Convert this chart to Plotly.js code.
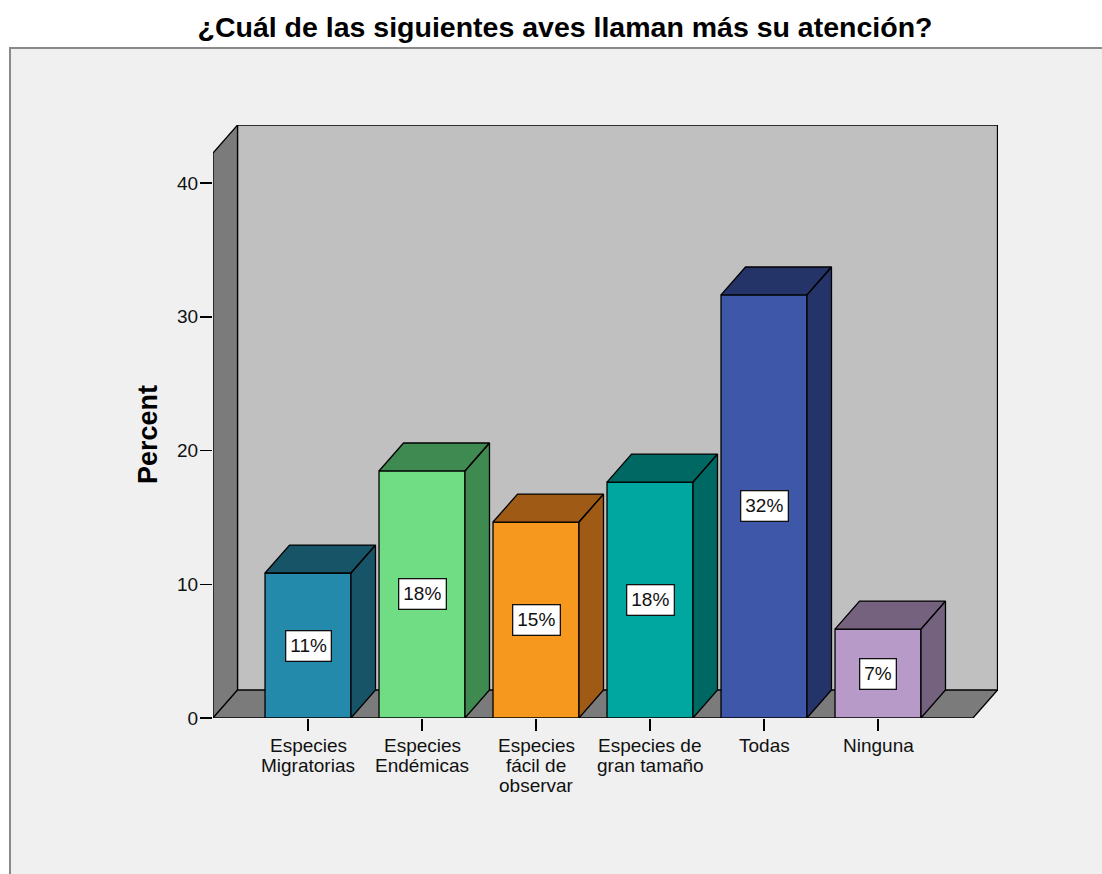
<!DOCTYPE html>
<html>
<head>
<meta charset="utf-8">
<script src="https://cdn.plot.ly/plotly-3.0.1.min.js"></script>
<style>html,body{margin:0;padding:0;background:#fff;}#chart{width:1102px;height:874px;}</style>
</head>
<body>
<div id="chart"></div>
<script>
// ---- data ----
const categories = [
  ["Especies", "Migratorias"],
  ["Especies", "Endémicas"],
  ["Especies", "fácil de", "observar"],
  ["Especies de", "gran tamaño"],
  ["Todas"],
  ["Ninguna"]
];
const percentValues = [10.84, 18.47, 14.65, 17.64, 31.63, 6.65];
const valueLabels = ["11%", "18%", "15%", "18%", "32%", "7%"];
const yTickValues = [0, 10, 20, 30, 40];
const yTickLabels = ["0", "10", "20", "30", "40"];
const frontColors = ["#248aab", "#70dc84", "#f7981e", "#00a6a0", "#3e57a8", "#b79ac8"];
const sideColors  = ["#185468", "#3f8a50", "#9f5b15", "#006863", "#243468", "#74627f"];

// ---- geometry (style) ----
const barHalf = 0.377;       // half bar width in category units
const dx = 0.215;            // depth offset in category units
const dy = 2.09;             // depth offset in value units
const xFront = [-0.8333, 5.8333];
const yFrontTop = 42.24;
const xRange = [xFront[0], xFront[1] + 0.2193];
const yRange = [0, yFrontTop + 2.096];

const FONT = "Liberation Sans, Arial, sans-serif";
const n = percentValues.length;
const idx = percentValues.map((_, i) => i);

const traces = [];
traces.push({
  type: "bar",
  x: idx,
  y: percentValues,
  width: barHalf * 2,
  marker: { color: frontColors, line: { color: "#000", width: 1.3 } },
  hoverinfo: "skip",
  showlegend: false
});
for (let i = 0; i < n; i++) {
  const v = percentValues[i];
  const xl = i - barHalf, xr = i + barHalf;
  traces.push({
    type: "scatter",
    mode: "lines",
    x: [xl, xl + dx, xr + dx, xr, xl, null, xr, xr + dx, xr + dx, xr, xr],
    y: [v, v + dy, v + dy, v, v, null, v, v + dy, dy, 0, v],
    fill: "toself",
    fillcolor: sideColors[i],
    line: { color: "#000", width: 1.3 },
    hoverinfo: "skip",
    showlegend: false
  });
}

// ---- walls (layout decoration) ----
const L = 213, T = 125, PW = 785, PH = 593;
const shapes = [
  // chart frame
  { type: "rect", xref: "paper", yref: "paper",
    x0: (10 - L) / PW, x1: (1110 - L) / PW, y0: (T + PH - 880) / PH, y1: (T + PH - 48) / PH,
    fillcolor: "#f0f0f0", line: { color: "#8a8a8a", width: 2 }, layer: "below" },
  // back wall
  { type: "rect", xref: "x", yref: "y",
    x0: xFront[0] + dx, x1: xFront[1] + dx, y0: dy, y1: yFrontTop + dy,
    fillcolor: "#c0c0c0", line: { color: "#000", width: 1.3 }, layer: "below" },
  // left wall
  { type: "path", xref: "x", yref: "y",
    path: `M ${xFront[0]},0 L ${xFront[0]},${yFrontTop} L ${xFront[0] + dx},${yFrontTop + dy} L ${xFront[0] + dx},${dy} Z`,
    fillcolor: "#7b7b7b", line: { color: "#000", width: 1.3 }, layer: "below" },
  // floor
  { type: "path", xref: "x", yref: "y",
    path: `M ${xFront[0]},0 L ${xFront[1]},0 L ${xFront[1] + dx},${dy} L ${xFront[0] + dx},${dy} Z`,
    fillcolor: "#7b7b7b", line: { color: "#000", width: 1.3 }, layer: "below" }
];

const annotations = [];
for (let i = 0; i < n; i++) {
  annotations.push({
    x: i, y: percentValues[i] / 2, xref: "x", yref: "y",
    text: valueLabels[i], showarrow: false,
    bgcolor: "#fff", bordercolor: "#111", borderwidth: 1.3, borderpad: 4,
    font: { family: FONT, size: 19, color: "#111" }
  });
  categories[i].forEach((line, k) => {
    annotations.push({
      x: i, y: 0, xref: "x", yref: "y",
      text: line, showarrow: false, yanchor: "middle", yshift: -(27 + 20 * k),
      font: { family: FONT, size: 19, color: "#111" }
    });
  });
}
annotations.push({
  xref: "paper", yref: "paper", x: (148 - L) / PW, y: (T + PH - 435) / PH,
  text: "<b>Percent</b>", showarrow: false, textangle: -90,
  xanchor: "center", yanchor: "middle",
  font: { family: FONT, size: 27, color: "#000" }
});

const layout = {
  width: 1102, height: 874,
  margin: { l: L, r: 1102 - L - PW, t: T, b: 874 - T - PH, pad: 0 },
  paper_bgcolor: "#ffffff",
  plot_bgcolor: "rgba(0,0,0,0)",
  title: {
    text: "<b>¿Cuál de las siguientes aves llaman más su atención?</b>",
    xref: "container", yref: "container", x: 565 / 1102, y: 1 - 27 / 874,
    xanchor: "center", yanchor: "middle",
    font: { family: FONT, size: 28.5, color: "#000" }
  },
  xaxis: {
    range: xRange, showgrid: false, zeroline: false, showline: false,
    tickmode: "array", tickvals: idx, ticktext: idx.map(() => ""),
    ticks: "outside", ticklen: 12, tickwidth: 1.5, tickcolor: "#000",
    fixedrange: true
  },
  yaxis: {
    range: yRange, showgrid: false, zeroline: false, showline: false,
    tickmode: "array", tickvals: yTickValues, ticktext: yTickLabels,
    ticks: "outside", ticklen: 12, tickwidth: 1.5, tickcolor: "#000",
    ticklabelstandoff: -2,
    tickfont: { family: FONT, size: 19, color: "#111" },
    fixedrange: true
  },
  shapes: shapes,
  annotations: annotations,
  bargap: 0
};

Plotly.newPlot("chart", traces, layout, { displayModeBar: false, staticPlot: true });
</script>
</body>
</html>
